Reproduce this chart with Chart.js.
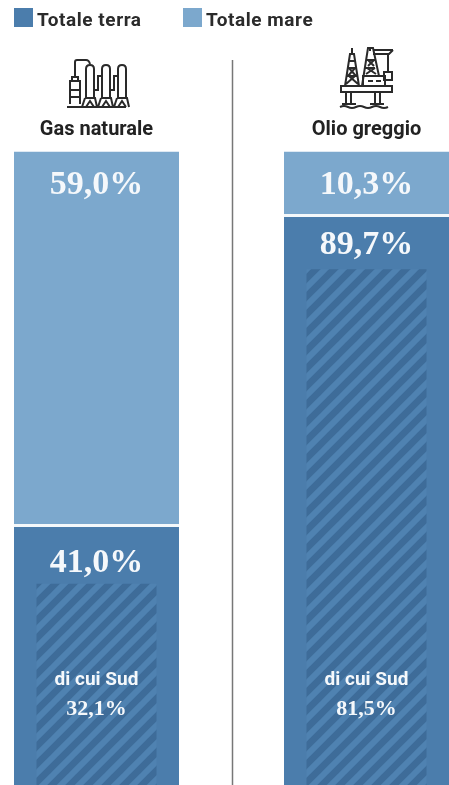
<!DOCTYPE html>
<html lang="it">
<head>
<meta charset="utf-8">
<title>Gas naturale e olio greggio</title>
<script src="https://cdn.jsdelivr.net/npm/chart.js@4/dist/chart.umd.min.js"></script>
<style>
  html, body { margin: 0; padding: 0; background: #fff; overflow: hidden; }
  #wrap { position: relative; width: 449px; height: 785px; overflow: hidden; }
  #chart { position: absolute; left: 0; top: 0; }
  #icons { position: absolute; left: 0; top: 0; }
  .legend { position: absolute; top: 8px; height: 19px; white-space: nowrap;
            font: 700 19px/23px Roboto, sans-serif; letter-spacing: 0.55px; color: #2b2b2b; padding-left: 23px; }
  .legend i { position: absolute; left: 0; top: 0; width: 19px; height: 19px; }
</style>
</head>
<body>
<div id="wrap">
  <canvas id="chart" width="449" height="788"></canvas>
  <svg id="icons" width="449" height="120" fill="none" stroke="#2a2a2a" stroke-width="2">
    <!-- impianto gas -->
    <path d="M67 107H126M70 104V81h10v23M70 90h10M70 97h10M72 81v-4h6v4M75 77V62q0-2 2-2h9q3 0 4 4"/>
    <path d="M86 97V69q0-4 4-4t4 4v28M102 97V69q0-4 4-4t4 4v28M118 97V69q0-4 4-4t4 4v28"/>
    <path d="M94 90h4V76h4M110 90h4V76h4"/>
    <path d="M85 98h10l2 9M85 98l-3 9M101 98h10l2 9M101 98l-3 9M117 98h10l2 9M117 98l-3 9M86 107l4-6 4 6M102 107l4-6 4 6M118 107l4-6 4 6"/>
    <!-- piattaforma petrolifera -->
    <path d="M341 86h51v6h-51zM346 92h5v12h-5zM375 92h5v12h-5zM342 104h14M370 104h14M340 107q4-2 8 0t8 0t8 0t8 0t8 0t8 0"/>
    <path d="M352 53v-5M345 86l5-32h4l5 32M347 76h10M348 68h8M349 61h6M346 84l9-8M358 84l-9-8M348 76l7-8M356 76l-7-8"/>
    <path d="M362 86l6-38h5l6 28M364 76h14M365 68h10M367 60h8M366 74l9-6M376 74l-9-6M368 66l6-6M374 66l-6-6"/>
    <path d="M370 47v4M373 50h20M373 54h16l4-4M388 54v18M384 72h8v8h-8zM363 76h22v10h-22zM368 81h5M376 81h5"/>
  </svg>
  <span class="legend" id="legTerra" style="left:14px"><i></i></span>
  <span class="legend" id="legMare" style="left:183px"><i></i></span>
</div>
<script>
  const categories = ["Gas naturale", "Olio greggio"];
  const terra = [41.0, 89.7];
  const mare = [59.0, 10.3];
  const sud = [32.1, 81.5];
  const sudLabel = "di cui Sud";
  const legendNames = ["Totale terra", "Totale mare"];

  const colTerra = "#4b7dac";
  const colMare = "#7ca8cd";

  const fmt = (v) => v.toFixed(1).replace(".", ",") + "%";

  // * legend
  [["legTerra", colTerra, legendNames[0]], ["legMare", colMare, legendNames[1]]].forEach(([id, col, name]) => {
    const el = document.getElementById(id);
    el.querySelector("i").style.background = col;
    el.appendChild(document.createTextNode(name));
  });

  // * stripes for the "di cui Sud" block
  function stripes() {
    const size = 18;
    const tile = document.createElement("canvas");
    tile.width = size;
    tile.height = size;
    const c = tile.getContext("2d");
    c.fillStyle = "#3e6c99";
    c.fillRect(0, 0, size, size);
    c.strokeStyle = "#4f82b1";
    c.lineWidth = 6;
    c.beginPath();
    for (let i = -size; i <= size; i += size) {
      c.moveTo(i - 2, size + 2);
      c.lineTo(i + size + 2, -2);
    }
    c.stroke();
    return c.createPattern(tile, "repeat");
  }

  // divider and value labels, anchored on the bars
  const overlay = {
    id: "overlay",
    beforeDatasetsDraw(chart) {
      const { ctx } = chart;
      ctx.save();
      ctx.strokeStyle = "#777";
      ctx.lineWidth = 1.5;
      ctx.beginPath();
      ctx.moveTo(232.5, 60);
      ctx.lineTo(232.5, 785);
      ctx.stroke();
      ctx.restore();
    },
    afterDatasetsDraw(chart) {
      const { ctx } = chart;
      const sudBars = chart.getDatasetMeta(0).data;
      const terraBars = chart.getDatasetMeta(1).data;
      const mareBars = chart.getDatasetMeta(2).data;
      ctx.save();
      ctx.fillStyle = "#f5f8fb";
      ctx.textAlign = "center";
      ctx.textBaseline = "middle";
      const big = 'bold 34px "Liberation Serif", serif';
      categories.forEach((_, i) => {
        ctx.font = big;
        ctx.fillText(fmt(mare[i]), mareBars[i].x, mareBars[i].y + 34);
        ctx.fillText(fmt(terra[i]), terraBars[i].x, terraBars[i].y + (i === 0 ? 36 : 28));
        ctx.font = '700 19px Roboto, sans-serif';
        ctx.fillText(sudLabel, sudBars[i].x, 680);
        ctx.font = 'bold 22px "Liberation Serif", serif';
        ctx.fillText(fmt(sud[i]), sudBars[i].x, 709);
      });
      ctx.restore();
    },
  };

  const barW = 165 / 270;
  const sudW = 120 / 270;

  const data = {
    labels: categories,
    datasets: [
      {
        label: sudLabel,
        data: sud,
        stack: "sud",
        backgroundColor: stripes(),
        barPercentage: sudW,
        categoryPercentage: 1,
        grouped: false,
        clip: false,
      },
      {
        label: legendNames[0],
        data: terra,
        stack: "tot",
        backgroundColor: colTerra,
        barPercentage: barW,
        categoryPercentage: 1,
        grouped: false,
        clip: false,
      },
      {
        label: legendNames[1],
        data: mare,
        stack: "tot",
        backgroundColor: colMare,
        borderColor: "#f4f8fa",
        borderWidth: { top: 0, left: 0, right: 0, bottom: 3 },
        borderSkipped: false,
        barPercentage: barW,
        categoryPercentage: 1,
        grouped: false,
        clip: false,
      },
    ],
  };

  new Chart(document.getElementById("chart").getContext("2d"), {
    type: "bar",
    data: data,
    plugins: [overlay],
    options: {
      responsive: false,
      animation: false,
      layout: { padding: { left: 96.5, right: 82.5, top: 107.5, bottom: 0 } },
      plugins: { legend: { display: false }, tooltip: { enabled: false } },
      scales: {
        x: {
          position: "top",
          offset: false,
          stacked: true,
          grid: { display: false, drawTicks: false },
          border: { display: false },
          ticks: {
            autoSkip: false,
            maxRotation: 0,
            padding: 10,
            color: "#222",
            font: { family: "Roboto, sans-serif", weight: "700", size: 20 },
          },
        },
        y: {
          display: false,
          stacked: true,
          min: 0,
          max: 100,
        },
      },
    },
  });
</script>
</body>
</html>
